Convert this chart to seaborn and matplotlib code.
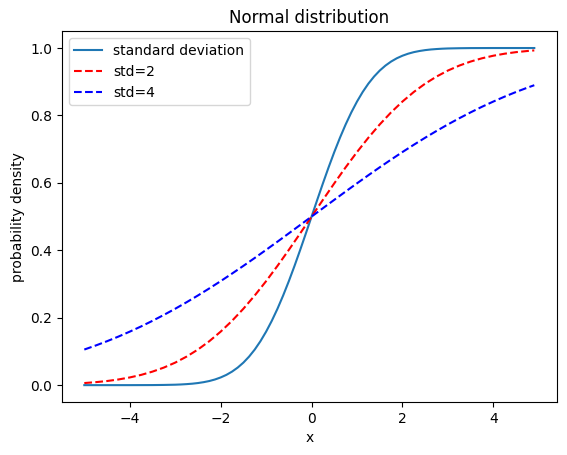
import matplotlib
matplotlib.use("Agg")
import matplotlib.pyplot as plt
import seaborn as sns
import pandas as pd

# values
x_vals = [-5.0, -4.75, -4.5, -4.25, -4.0, -3.75, -3.5, -3.25, -3.0, -2.75,
          -2.5, -2.25, -2.0, -1.75, -1.5, -1.25, -1.0, -0.75, -0.5, -0.25,
          0.0, 0.25, 0.5, 0.75, 1.0, 1.25, 1.5, 1.75, 2.0, 2.25,
          2.5, 2.75, 3.0, 3.25, 3.5, 3.75, 4.0, 4.25, 4.5, 4.75, 4.9]

std2_vals = [0.0062, 0.0088, 0.0122, 0.0168, 0.0228, 0.0304, 0.0401, 0.0521, 0.0668, 0.0846,
             0.1056, 0.1303, 0.1587, 0.1908, 0.2266, 0.2660, 0.3085, 0.3538, 0.4013, 0.4503,
             0.5, 0.5497, 0.5987, 0.6462, 0.6915, 0.7340, 0.7734, 0.8092, 0.8413, 0.8697,
             0.8944, 0.9154, 0.9332, 0.9479, 0.9599, 0.9696, 0.9772, 0.9832, 0.9878, 0.9912, 0.9929]

std4_vals = [0.1056, 0.1175, 0.1303, 0.1440, 0.1587, 0.1742, 0.1908, 0.2083, 0.2266, 0.2459,
             0.2660, 0.2869, 0.3085, 0.3309, 0.3538, 0.3773, 0.4013, 0.4256, 0.4503, 0.4751,
             0.5, 0.5249, 0.5497, 0.5744, 0.5987, 0.6227, 0.6462, 0.6691, 0.6915, 0.7131,
             0.7340, 0.7541, 0.7734, 0.7917, 0.8092, 0.8258, 0.8413, 0.8560, 0.8697, 0.8825, 0.8897]

# the steep curve is read at a finer spacing around the centre
x1_vals = [-5.0, -4.5, -4.0, -3.5, -3.25,
           -3.0, -2.875, -2.75, -2.625, -2.5, -2.375, -2.25, -2.125,
           -2.0, -1.875, -1.75, -1.625, -1.5, -1.375, -1.25, -1.125,
           -1.0, -0.875, -0.75, -0.625, -0.5, -0.375, -0.25, -0.125,
           0.0, 0.125, 0.25, 0.375, 0.5, 0.625, 0.75, 0.875,
           1.0, 1.125, 1.25, 1.375, 1.5, 1.625, 1.75, 1.875,
           2.0, 2.125, 2.25, 2.375, 2.5, 2.625, 2.75, 2.875, 3.0,
           3.25, 3.5, 4.0, 4.5, 4.9]

std1_vals = [0.0, 0.0, 0.0, 0.0002, 0.0006,
             0.0013, 0.0020, 0.0030, 0.0043, 0.0062, 0.0088, 0.0122, 0.0168,
             0.0228, 0.0304, 0.0401, 0.0521, 0.0668, 0.0846, 0.1056, 0.1303,
             0.1587, 0.1908, 0.2266, 0.2660, 0.3085, 0.3538, 0.4013, 0.4503,
             0.5, 0.5497, 0.5987, 0.6462, 0.6915, 0.7340, 0.7734, 0.8092,
             0.8413, 0.8697, 0.8944, 0.9154, 0.9332, 0.9479, 0.9599, 0.9696,
             0.9772, 0.9832, 0.9878, 0.9912, 0.9938, 0.9957, 0.9970, 0.9980, 0.9987,
             0.9994, 0.9998, 1.0, 1.0, 1.0]

df = pd.DataFrame({"x": x_vals, "s2": std2_vals, "s4": std4_vals})
df1 = pd.DataFrame({"x": x1_vals, "s1": std1_vals})

fig = plt.figure(figsize=(5.67, 4.55), dpi=100)
ax = fig.add_axes([0.109, 0.1165, 0.873, 0.815])

sns.lineplot(data=df1, x="x", y="s1", ax=ax, color="#1f77b4", label="standard deviation")
sns.lineplot(data=df, x="x", y="s2", ax=ax, color="red", linestyle="--", label="std=2")
sns.lineplot(data=df, x="x", y="s4", ax=ax, color="blue", linestyle="--", label="std=4")

ax.set_title("Normal distribution")
ax.set_xlabel("x")
ax.set_ylabel("probability density")
ax.legend(loc="upper left")

plt.savefig("out.png", dpi=100)
plt.close()
